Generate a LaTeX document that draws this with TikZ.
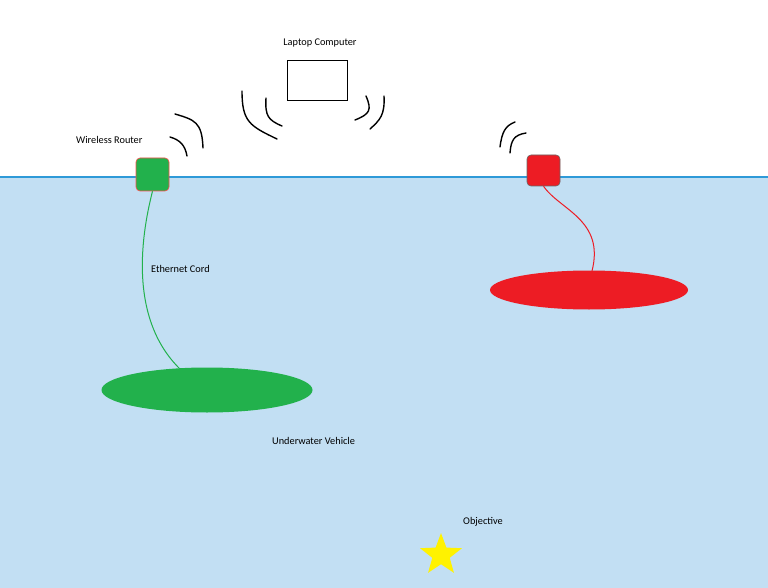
\documentclass[tikz,border=0pt]{standalone}
\usepackage{fontspec}
\setmainfont{Carlito}
\usetikzlibrary{shapes.geometric}
\definecolor{water}{HTML}{C2DFF3}
\definecolor{surf}{HTML}{2E9AD8}
\definecolor{pgreen}{HTML}{22B14C}
\definecolor{pred}{HTML}{ED1C24}
\definecolor{pyellow}{HTML}{FFF200}
\begin{document}
\begin{tikzpicture}[x=1pt,y=-1pt,
  lbl/.style={font=\fontsize{10.3}{12}\selectfont, inner sep=0pt, text=black},
  wave/.style={draw=black, line width=1.4pt, line cap=round},
  router/.style={rounded corners=4pt, line width=0.6pt, minimum width=33pt, minimum height=33pt, inner sep=0pt},
  cable/.style={line width=1pt}]
\useasboundingbox (0,0) rectangle (768,588);
\fill[white] (0,0) rectangle (768,588);
\fill[water] (0,177) rectangle (768,588);
\draw[surf, line width=1.5pt] (0,177) -- (768,177);
% laptop
\node[draw=black, line width=1pt, minimum width=60pt, minimum height=40pt, inner sep=0pt] (laptop) at (317,81) {};
\node[lbl] (laptoplbl) at (320,43) {Laptop Computer};
\draw[wave] (242,91) .. controls (242,122) and (250,126) .. (277,139);
\draw[wave] (266,98) .. controls (265,116) and (268,120) .. (282,126);
\draw[wave] (366,96) .. controls (372,110) and (370,114) .. (355,120);
\draw[wave] (384,96) .. controls (385,115) and (380,120) .. (370,129);
% green router
\node[router, draw=red!70, fill=pgreen] (grouter) at (152.5,174.5) {};
\node[lbl, anchor=west] (wrlbl) at (76,140) {Wireless Router};
\draw[wave] (175,114) .. controls (195,120) and (202,122) .. (203,148);
\draw[wave] (170,137) .. controls (180,140) and (185,145) .. (187,156);
% red router
\node[router, draw=black!60, fill=pred, minimum height=31pt] (rrouter) at (543.5,170.5) {};
\draw[wave] (515,122) .. controls (505,126) and (502,132) .. (500,147);
\draw[wave] (526,133) .. controls (514,135) and (511,140) .. (510,153);
% vehicles
\node[ellipse, fill=pgreen, minimum width=211pt, minimum height=45pt, inner sep=0pt] (gveh) at (207,390) {};
\node[ellipse, fill=pred, minimum width=198pt, minimum height=39pt, inner sep=0pt] (rveh) at (589,290) {};
\coordinate (gtop) at (180,369);
\coordinate (rtop) at (592,271);
\draw[cable, pgreen] (grouter.south) .. controls (140,240) and (130,320) .. (gtop);
\draw[cable, pred] (rrouter.south) .. controls (560,210) and (605,220) .. (rtop);
\node[lbl, anchor=west] (ethlbl) at (151,269) {Ethernet Cord};
\node[lbl, anchor=west] (uvlbl) at (272,441) {Underwater Vehicle};
% objective
\node[star, star points=5, star point ratio=2.4, fill=pyellow, minimum size=44pt, inner sep=0pt] (obj) at (441,555) {};
\node[lbl, anchor=west] (objlbl) at (463,522) {Objective};
\end{tikzpicture}
\end{document}
